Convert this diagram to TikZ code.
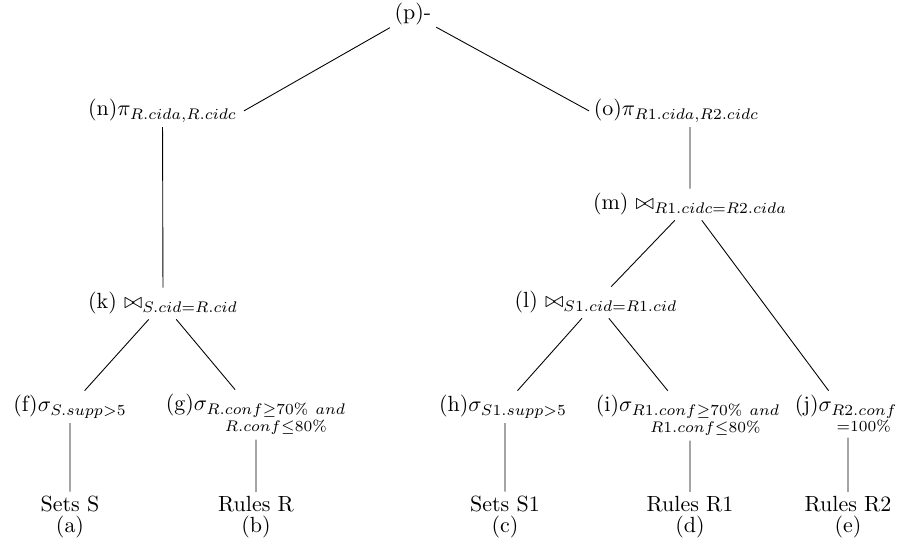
\documentclass[tikz,border=0pt]{standalone}
\usepackage{tikz}
\usepackage{amsfonts}
\usepackage{amsmath}

\begin{document}
\begin{tikzpicture}[scale=0.16]
\tikzstyle{every node}+=[inner sep=2pt, anchor=base]
\useasboundingbox (0,0) rectangle (89.8,-55);
\node (p) at (41.3,-2.0) {(p)-};
\node (n) at (16.25,-11.6) {(n)$\pi_{R.cida,R.cidc}$};
\node (o) at (67.65,-11.6) {(o)$\pi_{R1.cida,R2.cidc}$};
\node (m) at (69,-21.0) {(m) $\bowtie_{R1.cidc=R2.cida}$};
\node (k) at (16.3,-30.9) {(k) $\bowtie_{S.cid=R.cid}$};
\node (l) at (59.6,-30.8) {(l) $\bowtie_{S1.cid=R1.cid}$};
\node (f) at (7.0,-41.2) {(f)$\sigma_{S.supp>5}$};
\node (g) at (25.6,-41.1) {(g)$\sigma_{\substack{R.conf\geq 70\%\ and\\ R.conf\leq 80\%}}$};
\node (h) at (50.3,-41.2) {(h)$\sigma_{S1.supp>5}$};
\node (i) at (68.8,-41.2) {(i)$\sigma_{\substack{R1.conf\geq 70\%\ and\\ R1.conf\leq 80\%}}$};
\node (j) at (84.6,-41.2) {(j)$\sigma_{\substack{R2.conf\\ =100\%}}$};
\node (a) at (7.0,-51.2) {Sets S};
\node (b) at (25.6,-51.2) {Rules R};
\node (c) at (50.5,-51.2) {Sets S1};
\node (d) at (69.0,-51.2) {Rules R1};
\node (e) at (84.8,-51.2) {Rules R2};
\node (la) at (7.0,-53.2) {(a)};
\node (lb) at (25.6,-53.2) {(b)};
\node (lc) at (50.5,-53.2) {(c)};
\node (ld) at (69.0,-53.2) {(d)};
\node (le) at (84.8,-53.2) {(e)};
\draw (p) -- ([xshift=6pt]n.east);
\draw (p) -- (o.west);
\draw (n) -- (k);
\draw (m) -- (m |- o.south);
\draw (k) -- (f);
\draw (k) -- (g);
\draw (m) -- (l);
\draw (m) -- (j);
\draw (l) -- (h);
\draw (l) -- (i);
\draw (a) -- (a |- f.south);
\draw (b) -- (b |- g.south);
\draw (c) -- (c |- h.south);
\draw (d) -- (d |- i.south);
\draw (e) -- (e |- j.south);
\end{tikzpicture}
\end{document}
